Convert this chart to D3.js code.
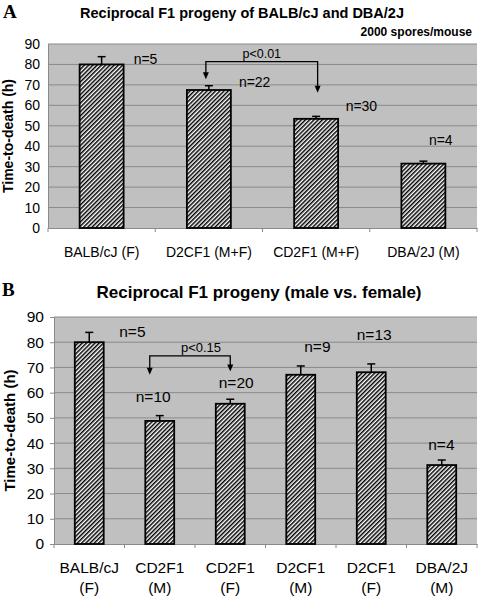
<!DOCTYPE html>
<html><head><meta charset="utf-8">
<script src="https://cdn.jsdelivr.net/npm/d3@7"></script>
<style>body{margin:0;background:#fff}svg{display:block}text{font-family:"Liberation Sans",Arial,sans-serif}</style>
</head><body>
<script>
// ---- data ----
const yTicks = [0,10,20,30,40,50,60,70,80,90];

const categoriesA = ["BALB/cJ (F)", "D2CF1 (M+F)", "CD2F1 (M+F)", "DBA/2J (M)"];
const meansA = [80, 67.5, 53.4, 31.5];
const errorsA = [3.8, 2.1, 1.2, 1.2];
const nLabelsA = ["n=5", "n=22", "n=30", "n=4"];

const categoriesB = ["BALB/cJ (F)", "CD2F1 (M)", "CD2F1 (F)", "D2CF1 (M)", "D2CF1 (F)", "DBA/2J (M)"];
const meansB = [80, 48.8, 55.6, 67.1, 68.1, 31.3];
const errorsB = [3.9, 2.1, 1.8, 3.5, 3.3, 2.0];
const nLabelsB = ["n=5", "n=10", "n=20", "n=9", "n=13", "n=4"];

const compareA = {from: 1, to: 2, label: "p<0.01"};
const compareB = {from: 1, to: 2, label: "p<0.15"};

// ---- layout ----
const W = 480, H = 596;
const svg = d3.select("body").append("svg").attr("width", W).attr("height", H);
const defs = svg.append("defs");
const pat = defs.append("pattern").attr("id","hatch").attr("patternUnits","userSpaceOnUse")
  .attr("width",3).attr("height",3).attr("patternTransform","rotate(45)");
pat.append("rect").attr("width",3).attr("height",3).attr("fill","#fff");
pat.append("line").attr("x1",0.75).attr("y1",0).attr("x2",0.75).attr("y2",3)
  .attr("stroke","#000").attr("stroke-width",1.5);

function panel(cfg){
  const g = svg.append("g");
  const x = d3.scaleBand().domain(cfg.cats).range([cfg.x0, cfg.x1]).paddingInner(0).paddingOuter(0);
  const y = d3.scaleLinear().domain([0,90]).range([cfg.yb, cfg.yt]);
  const fs = cfg.fs;
  // background
  g.append("rect").attr("x",cfg.x0).attr("y",cfg.yt).attr("width",cfg.x1-cfg.x0).attr("height",cfg.yb-cfg.yt).attr("fill","#c0c0c0");
  // grid
  g.selectAll(".grid").data(yTicks.filter(d=>d>0)).join("line")
    .attr("x1",cfg.x0).attr("x2",cfg.x1).attr("y1",d=>y(d)).attr("y2",d=>y(d))
    .attr("stroke","#8a8a8a").attr("stroke-width",1);
  // y axis
  const ya = g.append("g").attr("transform",`translate(${cfg.x0},0)`)
    .call(d3.axisLeft(y).tickValues(yTicks).tickSize(cfg.tick).tickPadding(cfg.tpad));
  ya.select(".domain").attr("stroke","#8a8a8a");
  ya.selectAll(".tick line").attr("stroke","#8a8a8a");
  ya.selectAll("text").attr("font-size",fs).attr("fill","#000").style("font-family",'"Liberation Sans",Arial,sans-serif');
  // x axis
  const xa = g.append("g").attr("transform",`translate(0,${cfg.yb})`)
    .call(d3.axisBottom(x).tickSize(0).tickFormat(""));
  xa.select(".domain").attr("stroke","#8a8a8a");
  const bounds = d3.range(cfg.cats.length+1).map(i=>cfg.x0 + i*x.step());
  g.selectAll(".xt").data(bounds).join("line").attr("x1",d=>d).attr("x2",d=>d)
    .attr("y1",cfg.yb).attr("y2",cfg.yb+4).attr("stroke","#8a8a8a");
  // x labels
  const lab = g.selectAll(".xl").data(cfg.cats).join("text")
    .attr("text-anchor","middle").attr("font-size",fs);
  if (cfg.twoLine){
    lab.each(function(d){
      const parts = d.split(" ");
      const t = d3.select(this);
      t.append("tspan").attr("x",x(d)+x.bandwidth()/2).attr("y",cfg.labY).text(parts[0]);
      t.append("tspan").attr("x",x(d)+x.bandwidth()/2).attr("y",cfg.labY+cfg.lineH).text(parts[1]);
    });
  } else {
    lab.attr("x",d=>x(d)+x.bandwidth()/2).attr("y",cfg.labY).text(d=>d);
  }
  // bars
  const bw = x.bandwidth()*cfg.barFrac;
  const cx = d => x(d)+x.bandwidth()/2;
  // error bars
  g.selectAll(".eb").data(cfg.cats).join("line")
    .attr("x1",cx).attr("x2",cx).attr("y1",(d,i)=>y(cfg.means[i])).attr("y2",(d,i)=>y(cfg.means[i]+cfg.errs[i]))
    .attr("stroke","#000").attr("stroke-width",1.5);
  g.selectAll(".ec").data(cfg.cats).join("line")
    .attr("x1",d=>cx(d)-4).attr("x2",d=>cx(d)+4).attr("y1",(d,i)=>y(cfg.means[i]+cfg.errs[i])).attr("y2",(d,i)=>y(cfg.means[i]+cfg.errs[i]))
    .attr("stroke","#000").attr("stroke-width",1.5);
  g.selectAll(".bar").data(cfg.cats).join("rect")
    .attr("x",d=>cx(d)-bw/2).attr("width",bw)
    .attr("y",(d,i)=>y(cfg.means[i])).attr("height",(d,i)=>y(0)-y(cfg.means[i]))
    .attr("fill","url(#hatch)").attr("stroke","#000").attr("stroke-width",1.8);
  // n labels
  g.selectAll(".nl").data(cfg.ns).join("text")
    .attr("x",(d,i)=>cx(cfg.cats[i])+cfg.nPos[i][0]).attr("y",(d,i)=>y(cfg.nPos[i][1]))
    .attr("font-size",fs).text(d=>d);
  // comparison bracket
  const c = cfg.cmp;
  const xa1 = cx(cfg.cats[c.from])+cfg.br.dx1, xa2 = cx(cfg.cats[c.to])+cfg.br.dx2;
  const yTop = y(cfg.br.top);
  const t1 = y(cfg.br.tip1), t2 = y(cfg.br.tip2);
  g.append("path").attr("d",`M${xa1},${t1-6}V${yTop}H${xa2}V${t2-6}`)
    .attr("fill","none").attr("stroke","#000").attr("stroke-width",1.3);
  [[xa1,t1],[xa2,t2]].forEach(([ax,ay])=>{
    g.append("path").attr("d",`M${ax-3},${ay-7}L${ax+3},${ay-7}L${ax},${ay}Z`).attr("fill","#000");
  });
  g.append("text").attr("x",(xa1+xa2)/2+cfg.br.tdx).attr("y",yTop-3.5).attr("text-anchor","middle")
    .attr("font-size",cfg.pfs).text(c.label);
  // titles
  g.append("text").attr("x",cfg.panelX).attr("y",cfg.panelY).attr("font-size",19).attr("font-weight","bold")
    .style("font-family",'"Liberation Serif","Times New Roman",serif').text(cfg.panel);
  g.append("text").attr("x",cfg.titleX).attr("y",cfg.titleY).attr("text-anchor","middle")
    .attr("font-size",cfg.tfs).attr("font-weight","bold").text(cfg.title);
  g.append("text").attr("transform",`translate(${cfg.ylX},${(cfg.yt+cfg.yb)/2}) rotate(-90)`)
    .attr("text-anchor","middle").attr("font-size",cfg.ylfs).attr("font-weight","bold").text("Time-to-death (h)");
  return {g,x,y};
}

const A = panel({
  cats: categoriesA, means: meansA, errs: errorsA, ns: nLabelsA,
  x0: 48, x1: 477, yt: 44, yb: 228, fs: 14, tick: 0, tpad: 8,
  labY: 257, twoLine: false, barFrac: 0.41,
  nPos: [[32,80.2],[30,69],[29.5,57.2],[5.5,40.6]],
  cmp: compareA, br: {dx1:-3, dx2:1.5, top:81.4, tip1:72.8, tip2:66.1, tdx:0}, pfs: 12.5,
  panel: "A", panelX: 3, panelY: 18,
  title: "Reciprocal F1 progeny of BALB/cJ and DBA/2J", titleX: 242, titleY: 18, tfs: 14.5,
  ylX: 13, ylfs: 14
});
svg.append("text").attr("x",472).attr("y",36).attr("text-anchor","end").attr("font-size",12)
  .attr("font-weight","bold").text("2000 spores/mouse");

const B = panel({
  cats: categoriesB, means: meansB, errs: errorsB, ns: nLabelsB,
  x0: 54, x1: 477, yt: 317, yb: 544, fs: 15.5, tick: 4, tpad: 6,
  labY: 573, twoLine: true, lineH: 20, barFrac: 0.41,
  nPos: [[30,82.1],[-24,56.3],[-11.5,61.9],[3.5,76.1],[-14.5,80.9],[-13.5,37.3]],
  cmp: compareB, br: {dx1:-10, dx2:0, top:74.6, tip1:67.1, tip2:68.4, tdx:11}, pfs: 13,
  panel: "B", panelX: 2, panelY: 296,
  title: "Reciprocal F1 progeny (male vs. female)", titleX: 259, titleY: 298, tfs: 17,
  ylX: 15, ylfs: 15
});
</script>
</body></html>
